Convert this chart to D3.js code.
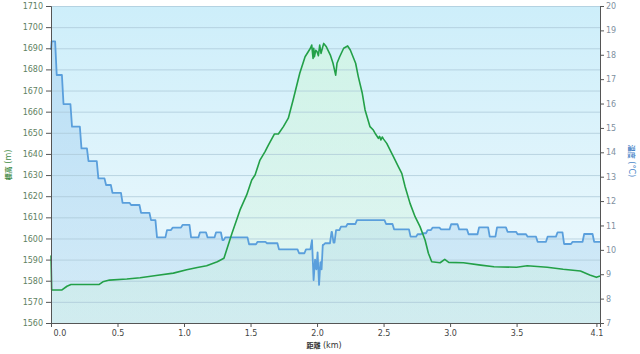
<!DOCTYPE html>
<html><head><meta charset="utf-8">
<script src="https://cdn.jsdelivr.net/npm/d3@7"></script>
<style>body{margin:0;background:#fff}svg{display:block}text{font-family:"DejaVu Sans",Verdana,sans-serif}</style>
</head><body><svg id="c" width="640" height="354"></svg>
<script>
// elevation profile: [distance km, elevation m]
const elevation = [[0,1592],[0.005,1575.6],[0.08,1575.6],[0.12,1577.4],[0.15,1578.2],[0.36,1578.2],[0.39,1579.5],[0.44,1580.3],[0.57,1580.8],[0.67,1581.4],[0.79,1582.5],[0.92,1583.6],[1.02,1585.2],[1.10,1586.3],[1.17,1587.1],[1.25,1589],[1.30,1590.6],[1.32,1594.5],[1.36,1602.4],[1.421,1613.5],[1.471,1620.6],[1.509,1627.7],[1.534,1630],[1.571,1637.1],[1.609,1641.1],[1.634,1644.2],[1.679,1649.4],[1.709,1649.4],[1.747,1652.9],[1.784,1656.9],[1.82,1665.5],[1.87,1678.2],[1.91,1686],[1.95,1690],[1.96,1691.5],[1.97,1685.2],[1.975,1690],[1.98,1686],[1.99,1689],[2.0,1688.4],[2.01,1686.5],[2.02,1691.5],[2.03,1687.6],[2.04,1690],[2.05,1692.3],[2.07,1690.7],[2.10,1686.8],[2.12,1682.9],[2.14,1677.3],[2.15,1682.9],[2.17,1686],[2.20,1690],[2.23,1691.1],[2.25,1689.2],[2.29,1682.9],[2.31,1676.6],[2.34,1668.7],[2.361,1660.8],[2.398,1652.9],[2.423,1651.3],[2.436,1649.8],[2.461,1647.4],[2.47,1648.3],[2.48,1646.6],[2.49,1648],[2.50,1647],[2.524,1645],[2.574,1638.7],[2.611,1634],[2.637,1630.8],[2.662,1624.5],[2.699,1616.6],[2.737,1610.3],[2.774,1605.6],[2.812,1599.3],[2.837,1593],[2.862,1589],[2.925,1588.5],[2.96,1590.1],[2.99,1588.7],[3.10,1588.5],[3.23,1587.4],[3.33,1586.6],[3.50,1586.4],[3.58,1587.1],[3.73,1586.4],[3.85,1585.4],[3.98,1584.6],[4.05,1582.7],[4.10,1581.6],[4.127,1582.2]];
// temperature steps: [distance km where level starts, temperature °C]
const temperature = [[0,18.2],[0.005,18.55],[0.043,17.17],[0.094,15.98],[0.158,15.05],[0.229,14.16],[0.282,13.64],[0.356,12.93],[0.414,12.66],[0.462,12.34],[0.538,11.93],[0.602,11.84],[0.677,11.52],[0.752,11.22],[0.797,10.51],[0.872,10.81],[0.914,10.91],[0.989,11.02],[1.053,10.51],[1.12,10.72],[1.177,10.51],[1.241,10.72],[1.289,10.40],[1.31,10.51],[1.489,10.23],[1.553,10.33],[1.624,10.27],[1.714,10.02],[1.865,9.86],[1.917,10.02],[1.962,10.4],[1.974,8.76],[1.985,9.6],[1.995,9.2],[2.004,9.9],[2.015,8.56],[2.025,9.5],[2.034,9.2],[2.043,10.2],[2.06,10.27],[2.109,10.74],[2.124,10.3],[2.143,10.81],[2.18,10.95],[2.229,11.06],[2.30,11.22],[2.519,11.06],[2.579,10.84],[2.703,10.54],[2.756,10.64],[2.793,10.68],[2.831,10.81],[2.868,10.91],[2.932,10.84],[3.008,11.05],[3.068,10.84],[3.139,10.64],[3.218,10.92],[3.298,10.54],[3.353,10.92],[3.432,10.74],[3.508,10.64],[3.583,10.54],[3.658,10.33],[3.733,10.54],[3.808,10.72],[3.857,10.24],[3.921,10.33],[4.008,10.65],[4.083,10.33],[4.127,10.33]];
const xTicks = [0,0.5,1.0,1.5,2.0,2.5,3.0,3.5,4.1];
const elevTicks = d3.range(1560,1711,10);
const tempTicks = d3.range(7,21,1);
const xTitle = ["距離","(km)"], elevTitle = ["標高","(m)"], tempTitle = ["温度","(°C)"];

const L=51,R=600,T=6,B=323;
const svg=d3.select("#c");
const x=d3.scaleLinear().domain([0,4.127]).range([L,R]);
const yE=d3.scaleLinear().domain([1560,1710]).range([B,T]);
const yT=d3.scaleLinear().domain([7,20]).range([B,T]);

const defs=svg.append("defs");
const bg=defs.append("linearGradient").attr("id","bg").attr("x1",0).attr("y1",0).attr("x2",0).attr("y2",1);
bg.append("stop").attr("offset","0").attr("stop-color","#cdeefa");
bg.append("stop").attr("offset","1").attr("stop-color","#f1fafd");
const gg=defs.append("linearGradient").attr("id","gg").attr("x1",0).attr("y1",0).attr("x2",0).attr("y2",1);
gg.append("stop").attr("offset","0").attr("stop-color","#d2f7dc").attr("stop-opacity",0.6);
gg.append("stop").attr("offset","1").attr("stop-color","#c8f0d8").attr("stop-opacity",0.25);
const bgT=defs.append("linearGradient").attr("id","bt").attr("x1",0).attr("y1",0).attr("x2",0).attr("y2",1);
bgT.append("stop").attr("offset","0").attr("stop-color","#a8d2f2").attr("stop-opacity",0.55);
bgT.append("stop").attr("offset","1").attr("stop-color","#b0d8f0").attr("stop-opacity",0.45);

svg.append("rect").attr("x",L).attr("y",T).attr("width",R-L).attr("height",B-T).attr("fill","url(#bg)");

// temperature step expansion with slightly slanted risers
const tPts=[];
temperature.forEach((d,i)=>{
  tPts.push(d);
  const n=temperature[i+1];
  if(n){const e=Math.max(d[0],n[0]-0.012); tPts.push([e,d[1]]);}
});
svg.append("path").datum(tPts).attr("fill","url(#bt)")
  .attr("d",d3.area().x(d=>x(d[0])).y0(B).y1(d=>yT(d[1])));
svg.append("path").datum(elevation).attr("fill","url(#gg)")
  .attr("d",d3.area().x(d=>x(d[0])).y0(B).y1(d=>yE(d[1])));

// gridlines
svg.append("g").selectAll("line").data(elevTicks.slice(1)).join("line")
  .attr("x1",L).attr("x2",R).attr("y1",d=>yE(d)+0.5).attr("y2",d=>yE(d)+0.5)
  .attr("stroke","#a9c6d6").attr("stroke-opacity",0.7).attr("stroke-width",1);

svg.append("path").datum(tPts).attr("fill","none").attr("stroke","#5a9fdc").attr("stroke-width",1.8)
  .attr("stroke-linejoin","round").attr("d",d3.line().x(d=>x(d[0])).y(d=>yT(d[1])));
svg.append("path").datum(elevation).attr("fill","none").attr("stroke","#23a048").attr("stroke-width",1.6)
  .attr("stroke-linejoin","round").attr("d",d3.line().x(d=>x(d[0])).y(d=>yE(d[1])));

// axes
const ax=(g)=>{g.select(".domain").attr("stroke","#555");g.selectAll(".tick line").attr("stroke","#555");g.selectAll("text").attr("font-size","8px");};
svg.append("g").attr("transform",`translate(${L},0)`)
  .call(d3.axisLeft(yE).tickValues(elevTicks).tickFormat(d3.format("d")).tickSizeOuter(0).tickSize(5).tickPadding(3))
  .call(ax).call(g=>g.selectAll("text").attr("fill","#5f7f62"));
svg.append("g").attr("transform",`translate(${R},0)`)
  .call(d3.axisRight(yT).tickValues(tempTicks).tickFormat(d3.format("d")).tickSizeOuter(0).tickSize(4).tickPadding(2))
  .call(ax).call(g=>g.selectAll("text").attr("fill","#8090a0"));
svg.append("g").attr("transform",`translate(0,${B})`)
  .call(d3.axisBottom(x).tickValues(xTicks).tickFormat(d3.format(".1f")).tickSizeOuter(0).tickSize(4).tickPadding(3))
  .call(ax).call(g=>g.selectAll("text").attr("fill","#444"))
  .call(g=>g.selectAll(".tick").filter(d=>d===0).select("text").attr("text-anchor","start").attr("dx",2));

// titles
const t1=svg.append("text").attr("transform","translate(11,165) rotate(-90)").attr("text-anchor","middle").attr("fill","#3f8a46").attr("font-size","8px");
t1.append("tspan").attr("font-family","'Noto Sans CJK JP'").attr("font-size","7px").attr("font-weight","bold").text(elevTitle[0]);
t1.append("tspan").text(" "+elevTitle[1]);
const t2=svg.append("text").attr("transform","translate(629,161) rotate(90)").attr("text-anchor","middle").attr("fill","#4a86c8").attr("font-size","8px");
t2.append("tspan").attr("font-family","'Noto Sans CJK JP'").attr("font-size","7px").attr("font-weight","bold").text(tempTitle[0]);
t2.append("tspan").text(" "+tempTitle[1]);
const t3=svg.append("text").attr("x",324).attr("y",348).attr("text-anchor","middle").attr("fill","#333").attr("font-size","8px");
t3.append("tspan").attr("font-family","'Noto Sans CJK JP'").attr("font-size","7px").attr("font-weight","bold").text(xTitle[0]);
t3.append("tspan").text("   "+xTitle[1]);
</script></body></html>
